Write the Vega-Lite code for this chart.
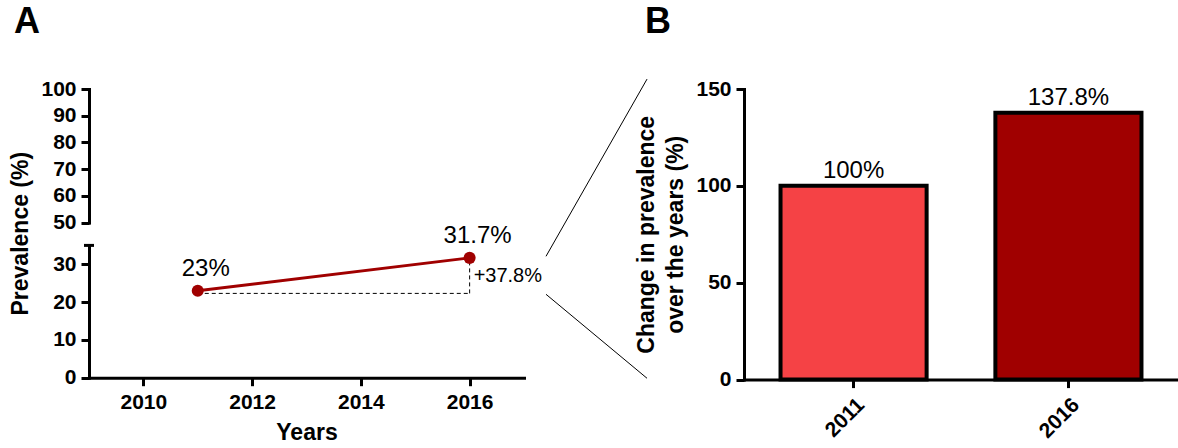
{
  "$schema": "https://vega.github.io/schema/vega-lite/v6.json",
  "padding": {"left": 9, "top": 4, "right": 0, "bottom": 0},
  "background": "white",
  "config": {
    "font": "Liberation Sans",
    "view": {"stroke": null},
    "axis": {
      "domainColor": "black", "domainWidth": 3, "domainCap": "square",
      "tickColor": "black", "tickWidth": 3, "tickSize": 8,
      "labelFontSize": 21, "labelFontWeight": "bold", "labelColor": "black", "labelPadding": 5,
      "titleFontSize": 23, "titleFontWeight": "bold", "titleColor": "black",
      "grid": false
    },
    "title": {"fontSize": 36, "fontWeight": "bold", "color": "black", "anchor": "start", "frame": "bounds"}
  },
  "datasets": {
    "prevalence": [
      {"x": 2011, "y": 23, "label": "23%"},
      {"x": 2016, "y": 31.7, "label": "31.7%"}
    ],
    "dashes": [
      {"x": 2011, "x2": 2016, "y": 22.3, "y2": 22.3},
      {"x": 2016, "x2": 2016, "y": 22.3, "y2": 31.7}
    ],
    "annotation": [
      {"x": 2016, "y": 27, "label": "+37.8%"}
    ],
    "cap": [
      {"x": 2009, "y": 35}
    ],
    "connectors": [
      {"x": 0, "x2": 0.574, "y": 0.4205, "y2": 1.0343},
      {"x": 0, "x2": 0.574, "y": 0.2889, "y2": -0.002}
    ],
    "change": [
      {"year": "2011", "change": 100, "label": "100%"},
      {"year": "2016", "change": 137.8, "label": "137.8%"}
    ]
  },
  "bounds": "flush",
  "spacing": 22,
  "hconcat": [
    {
      "title": {"text": "A", "offset": 37, "dx": 4},
      "width": 435,
      "height": 288.7,
      "resolve": {"scale": {"y": "independent"}, "axis": {"y": "independent"}},
      "encoding": {
        "x": {"field": "x", "type": "quantitative", "scale": {"domain": [2009, 2017], "nice": false, "zero": false},
              "axis": {"values": [2010, 2012, 2014, 2016], "format": "d", "title": "Years", "labelPadding": 6, "titlePadding": 9}}
      },
      "layer": [
        {
          "data": {"name": "prevalence"},
          "mark": {"type": "point", "opacity": 0, "clip": true},
          "encoding": {
            "y": {"field": "y", "type": "quantitative", "scale": {"domain": [50, 100], "range": [133.6, 0], "nice": false, "zero": false},
                  "axis": {"orient": "left", "values": [50, 60, 70, 80, 90, 100], "title": "Prevalence (%)", "titleY": 144.2, "titlePadding": 8}}
          }
        },
        {
          "encoding": {
            "y": {"field": "y", "type": "quantitative", "scale": {"domain": [0, 35], "range": [288.7, 156.4], "nice": false, "zero": false},
                  "axis": {"orient": "left", "values": [0, 10, 20, 30], "title": null}}
          },
          "layer": [
            {
              "data": {"name": "dashes"},
              "mark": {"type": "rule", "color": "black", "strokeWidth": 1, "strokeDash": [4, 3]},
              "encoding": {"x2": {"field": "x2"}, "y2": {"field": "y2"}}
            },
            {
              "data": {"name": "prevalence"},
              "mark": {"type": "line", "color": "#A00000", "strokeWidth": 3}
            },
            {
              "data": {"name": "prevalence"},
              "mark": {"type": "circle", "color": "#A00000", "size": 145, "opacity": 1}
            },
            {
              "data": {"name": "prevalence"},
              "mark": {"type": "text", "fontSize": 24, "dx": 8, "dy": -15, "baseline": "alphabetic", "align": "center", "color": "black"},
              "encoding": {"text": {"field": "label"}}
            },
            {
              "data": {"name": "annotation"},
              "mark": {"type": "text", "fontSize": 20, "dx": 4, "baseline": "middle", "align": "left", "color": "black"},
              "encoding": {"text": {"field": "label"}}
            },
            {
              "data": {"name": "cap"},
              "mark": {"type": "tick", "orient": "horizontal", "color": "black", "size": 10, "thickness": 3, "opacity": 1}
            }
          ]
        }
      ]
    },
    {
      "width": 176,
      "height": 288.7,
      "data": {"name": "connectors"},
      "mark": {"type": "rule", "color": "black", "strokeWidth": 1},
      "encoding": {
        "x": {"field": "x", "type": "quantitative", "scale": {"domain": [0, 1], "nice": false, "zero": false}, "axis": null},
        "x2": {"field": "x2"},
        "y": {"field": "y", "type": "quantitative", "scale": {"domain": [0, 1], "nice": false, "zero": false}, "axis": null},
        "y2": {"field": "y2"}
      }
    },
    {
      "title": {"text": "B", "offset": 37, "dx": 9},
      "width": 434,
      "height": 290.6,
      "data": {"name": "change"},
      "encoding": {
        "x": {"field": "year", "type": "nominal", "scale": {"paddingInner": 0.32, "paddingOuter": 0.17},
              "axis": {"labelAngle": -45, "title": null, "labelPadding": 6}},
        "y": {"field": "change", "type": "quantitative", "scale": {"domain": [0, 150], "nice": false},
              "axis": {"values": [0, 50, 100, 150], "title": ["Change in prevalence", "over the years (%)"], "titlePadding": 8, "titleLineHeight": 29}}
      },
      "layer": [
        {
          "mark": {"type": "bar", "stroke": "black", "strokeWidth": 4},
          "encoding": {"color": {"field": "year", "type": "nominal", "scale": {"range": ["#F54245", "#A00000"]}, "legend": null}}
        },
        {
          "mark": {"type": "text", "fontSize": 24, "dy": -8, "baseline": "alphabetic", "align": "center", "color": "black"},
          "encoding": {"text": {"field": "label"}}
        }
      ]
    }
  ]
}
